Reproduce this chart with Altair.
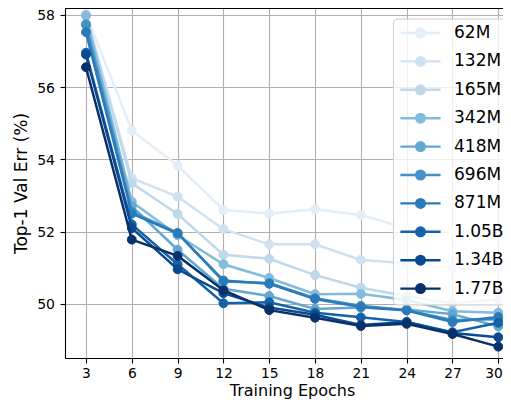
import altair as alt
import pandas as pd

epochs = [3, 6, 9, 12, 15, 18, 21, 24, 27, 30]
models = ["62M", "132M", "165M", "342M", "418M", "696M", "871M", "1.05B", "1.34B", "1.77B"]
colors = ["#e3eef9", "#d0e1f2", "#bed8ec", "#82bbdb", "#63a8d3",
          "#4292c6", "#2b7bba", "#1562a9", "#0a4a90", "#08306b"]

err_62M = [58.02, 54.80, 53.83, 52.60, 52.50, 52.62, 52.46, 52.10, 52.03, 51.95]
err_132M = [58.00, 53.48, 52.97, 52.07, 51.65, 51.65, 51.22, 51.13, 50.99, 50.95]
err_165M = [58.00, 53.34, 52.49, 51.36, 51.25, 50.80, 50.45, 50.22, 50.02, 50.13]
err_342M = [57.98, 52.83, 51.90, 51.10, 50.72, 50.27, 50.28, 50.11, 49.80, 49.76]
err_418M = [57.75, 52.70, 51.50, 50.42, 50.22, 49.86, 49.90, 49.85, 49.72, 49.38]
err_696M = [57.72, 52.55, 51.97, 50.62, 50.58, 50.16, 49.95, 49.83, 49.56, 49.58]
err_871M = [57.52, 52.50, 51.95, 50.65, 50.56, 50.14, 49.92, 49.82, 49.50, 49.64]
err_105B = [56.95, 52.20, 51.10, 50.02, 50.05, 49.76, 49.63, 49.50, 49.22, 49.48]
err_134B = [56.90, 52.10, 50.96, 50.30, 49.90, 49.70, 49.42, 49.50, 49.20, 49.08]
err_177B = [56.55, 51.78, 51.33, 50.38, 49.83, 49.62, 49.39, 49.45, 49.17, 48.82]

series = [err_62M, err_132M, err_165M, err_342M, err_418M,
          err_696M, err_871M, err_105B, err_134B, err_177B]

y_ticks = [50, 52, 54, 56, 58]

rows = []
for m, vals in zip(models, series):
    for e, v in zip(epochs, vals):
        rows.append({"epoch": e, "err": v, "model": m})
df = pd.DataFrame(rows)

W, H = 438, 350
FONT = "DejaVu Sans"

xs = alt.Scale(domain=[1.625, 30.309], nice=False, zero=False)
ys = alt.Scale(domain=[48.506, 58.188], nice=False, zero=False)
cs = alt.Scale(domain=models, range=colors)

sym = "M-3.35,0L3.35,0M0.72,0A0.72,0.72,0,1,1,-0.72,0A0.72,0.72,0,1,1,0.72,0Z"
leg = alt.Legend(
    title=None, orient="none", legendX=328, legendY=10.5,
    symbolType=sym, symbolSize=144, symbolStrokeWidth=2.4,
    labelFontSize=17, labelFont=FONT, labelColor="black",
    rowPadding=9.4, padding=6, symbolOffset=13, labelOffset=25,
    fillColor="rgba(255,255,255,0.8)", strokeColor="#cccccc", cornerRadius=4,
)

xaxis = alt.Axis(values=epochs, title="Training Epochs", grid=True,
                 labelFlush=6, labelFlushOffset=4, labelPadding=3, labelFontSize=13.8,
                 titleX=227, titleY=37.5, titleBaseline="alphabetic", titleAlign="center",
                 titleFontSize=16)
yaxis = alt.Axis(values=y_ticks, title="Top-1 Val Err (%)", grid=True,
                 labelOffset=1, labelPadding=5.5, labelFontSize=14,
                 titleX=-44, titleY=H / 2, titleBaseline="middle", titleAlign="center",
                 titleFontSize=17)

layers = []
for m in models:
    base = alt.Chart(df).transform_filter(alt.datum.model == m).encode(
        x=alt.X("epoch:Q", scale=xs, axis=xaxis),
        y=alt.Y("err:Q", scale=ys, axis=yaxis),
        stroke=alt.Stroke("model:N", scale=cs, legend=leg, sort=models),
    )
    layers.append(base.mark_line(strokeWidth=2.5))
    layers.append(
        base.mark_point(filled=True, size=79, strokeWidth=1, opacity=1).encode(
            fill=alt.Fill("model:N", scale=cs, legend=leg, sort=models)
        )
    )

rule = alt.Chart(alt.Data(values=[{"k": 0}])).mark_rule(color="black", strokeWidth=1.1).encode(
    x=alt.value(0), x2=alt.value(W), y=alt.value(0.5)
)

chart = (
    alt.layer(*layers, rule)
    .properties(width=W, height=H,
                padding={"left": 57, "top": 0, "right": 0, "bottom": 41},
                autosize=alt.AutoSizeParams(type="none"))
    .configure_view(stroke=None)
    .configure_axis(
        domainColor="black", domainWidth=1.1, tickColor="black", tickWidth=1.1,
        tickSize=5, labelFont=FONT, labelColor="black",
        titleFont=FONT, titleColor="black",
        titleFontWeight="normal", gridColor="#b0b0b0", gridWidth=1.1,
    )
)

chart.save("out.html", embed_options={"renderer": "svg", "actions": False})
